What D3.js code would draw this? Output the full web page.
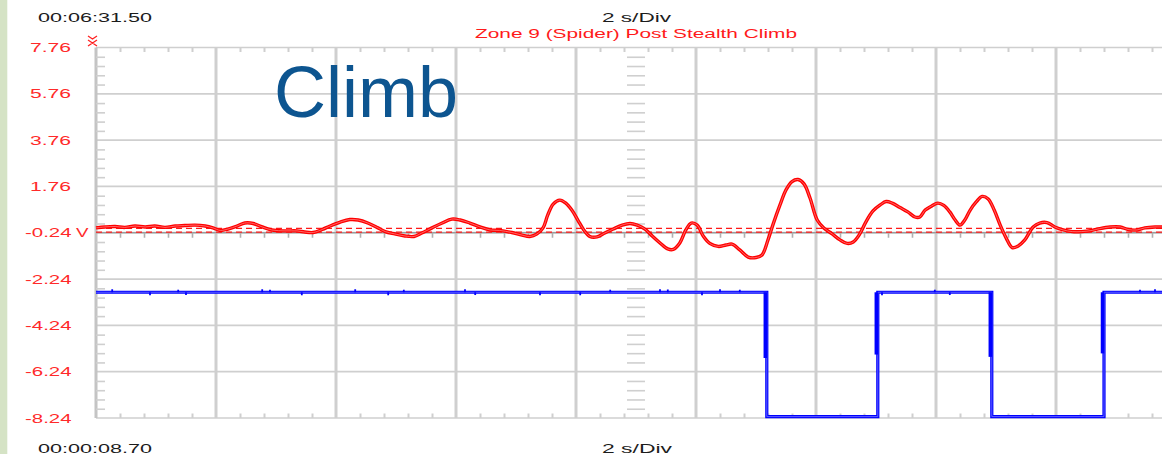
<!DOCTYPE html>
<html><head><meta charset="utf-8">
<script src="https://cdn.jsdelivr.net/npm/d3@7"></script>
<style>
body{margin:0;background:#fff;}
svg{display:block;}
text{font-family:"Liberation Sans",Arial,sans-serif;}
</style>
</head><body>
<svg id="c" width="1162" height="454"></svg>
<script>
// ---- data ----
const yTicks = [7.76, 5.76, 3.76, 1.76, -0.24, -2.24, -4.24, -6.24, -8.24];
const yTickLabels = ["7.76", "5.76", "3.76", "1.76", "-0.24", "-2.24", "-4.24", "-6.24", "-8.24"];
const yUnit = "V";
const xGridTimes = [2, 4, 6, 8, 10, 12, 14, 16];
const topTime = "00:06:31.50";
const bottomTime = "00:00:08.70";
const timeBase = "2 s/Div";
const traceTitle = "Zone 9 (Spider) Post Stealth Climb";
const overlayLabel = "Climb";

// red channel: [time s, volts]
const redTrace = [
 [0,-0.03],[0.15,0.01],[0.32,0.03],[0.48,-0.01],[0.65,0.05],[0.82,0.01],[0.98,0.05],[1.15,-0.01],
 [1.32,0.05],[1.48,0.07],[1.65,0.09],[1.82,0.05],[1.95,-0.03],[2.07,-0.14],[2.2,-0.08],[2.35,0.05],
 [2.48,0.18],[2.62,0.16],[2.77,0.01],[2.93,-0.12],[3.15,-0.16],[3.35,-0.16],[3.48,-0.21],[3.62,-0.23],
 [3.77,-0.10],[3.9,0.05],[4.07,0.22],[4.23,0.33],[4.37,0.31],[4.53,0.18],[4.7,-0.03],[4.82,-0.19],
 [4.98,-0.29],[5.15,-0.38],[5.3,-0.40],[5.43,-0.25],[5.6,-0.03],[5.77,0.18],[5.93,0.35],[6.07,0.31],
 [6.23,0.18],[6.4,0.01],[6.57,-0.12],[6.73,-0.14],[6.93,-0.23],[7.1,-0.34],[7.23,-0.40],[7.35,-0.29],
 [7.45,-0.03],[7.53,0.53],[7.62,1.00],[7.73,1.17],[7.83,1.04],[7.93,0.74],[8.03,0.31],[8.13,-0.12],
 [8.23,-0.40],[8.35,-0.42],[8.48,-0.25],[8.62,-0.08],[8.77,0.09],[8.9,0.16],[9.02,0.09],[9.15,-0.08],
 [9.27,-0.38],[9.4,-0.68],[9.53,-0.94],[9.62,-0.96],[9.73,-0.68],[9.83,-0.12],[9.92,0.18],[10.02,0.09],
 [10.12,-0.38],[10.23,-0.70],[10.37,-0.83],[10.5,-0.77],[10.6,-0.73],[10.73,-0.98],[10.87,-1.29],[11.0,-1.31],
 [11.1,-1.20],[11.2,-0.55],[11.28,0.09],[11.4,0.96],[11.5,1.61],[11.6,1.97],[11.7,2.06],[11.8,1.87],
 [11.9,1.26],[12.02,0.31],[12.13,-0.03],[12.27,-0.29],[12.4,-0.55],[12.52,-0.70],[12.62,-0.64],[12.73,-0.29],
 [12.83,0.22],[12.95,0.70],[13.07,0.96],[13.17,1.11],[13.27,1.04],[13.4,0.85],[13.53,0.66],[13.65,0.44],
 [13.73,0.44],[13.82,0.74],[13.93,0.92],[14.03,1.04],[14.13,0.94],[14.23,0.66],[14.32,0.31],[14.4,0.09],
 [14.48,0.31],[14.57,0.74],[14.67,1.09],[14.77,1.33],[14.87,1.22],[14.97,0.74],[15.07,0.09],[15.17,-0.47],
 [15.27,-0.88],[15.37,-0.81],[15.48,-0.55],[15.62,0.01],[15.73,0.18],[15.85,0.20],[15.98,0.01],[16.12,-0.12],
 [16.27,-0.19],[16.43,-0.19],[16.6,-0.14],[16.73,-0.06],[16.9,0.01],[17.07,0.01],[17.2,-0.10],[17.35,-0.12],
 [17.48,-0.03],[17.65,0.01],[17.77,0.01]
];
const refLevels = [-0.05, -0.21];

// blue channel: square wave
const blueHigh = -2.81;
const blueLow = -8.18;
const blueEdges = [11.18, 13.03, 14.93, 16.80];
const blueEdgeSettle = [-5.65, -5.50, -5.60, -5.45];
const blueSpikes = [
 [0.27,-2.68],[0.9,-2.94],[1.37,-2.70],[1.5,-2.93],[2.77,-2.68],[2.9,-2.70],[3.43,-2.94],[4.32,-2.68],
 [4.87,-2.94],[5.13,-2.70],[6.15,-2.68],[6.32,-2.93],[7.4,-2.94],[8.07,-2.94],[8.57,-2.70],[9.4,-2.68],
 [9.53,-2.69],[10.1,-2.94],[10.4,-2.68],[10.73,-2.70],[13.1,-2.94],[13.98,-2.70],[14.23,-2.93],[17.4,-2.70],[17.65,-2.68]
];

// ---- drawing ----
const svg = d3.select("#c");
const W = 1162, H = 454;
const x = d3.scaleLinear().domain([0, 18]).range([96, 1176]);
const y = d3.scaleLinear().domain([-8.24, 7.76]).range([418, 47.5]);
const grid = "#cfcfcf";

svg.append("rect").attr("x",0).attr("y",0).attr("width",7.3).attr("height",H).attr("fill","#d5e3c5");

// horizontal gridlines
svg.append("g").selectAll("line").data(yTicks).join("line")
  .attr("x1", x(0)).attr("x2", W).attr("y1", d=>y(d)).attr("y2", d=>y(d))
  .attr("stroke", grid).attr("stroke-width", d => (d===7.76||d===-8.24)?1.6:1.8);

// vertical gridlines
svg.append("g").selectAll("line").data(xGridTimes).join("line")
  .attr("x1", d=>x(d)).attr("x2", d=>x(d)).attr("y1", y(7.76)).attr("y2", y(-8.24))
  .attr("stroke", grid).attr("stroke-width", 3);

// left axis line
svg.append("line").attr("x1", x(0)).attr("x2", x(0)).attr("y1", y(7.76)).attr("y2", y(-8.24))
  .attr("stroke", "#c4c4c4").attr("stroke-width", 3);

const minorY = d3.range(0, 41).map(i => -8.24 + i*0.4).filter((v,i) => i % 5 !== 0);
const minorX = d3.range(0, 46).map(i => i*0.4).filter((v,i) => i % 5 !== 0);

function styleAxis(g){
  g.select(".domain").remove();
  g.selectAll(".tick line").attr("stroke", grid).attr("stroke-width", 1.6);
  g.selectAll(".tick text").remove();
}
// left minor ticks
svg.append("g").attr("transform", `translate(${x(0)},0)`)
  .call(d3.axisRight(y).tickValues(minorY).tickSize(9).tickFormat("")).call(styleAxis);
// top minor ticks
svg.append("g").attr("transform", `translate(0,${y(7.76)})`)
  .call(d3.axisBottom(x).tickValues(minorX).tickSize(4.5).tickFormat("")).call(styleAxis)
  .selectAll(".tick line").attr("stroke-width", 2);
// bottom minor ticks
svg.append("g").attr("transform", `translate(0,${y(-8.24)})`)
  .call(d3.axisTop(x).tickValues(minorX).tickSize(4.5).tickFormat("")).call(styleAxis)
  .selectAll(".tick line").attr("stroke-width", 2);
// centre horizontal axis
svg.append("line").attr("x1", x(0)).attr("x2", W).attr("y1", y(-0.24)).attr("y2", y(-0.24))
  .attr("stroke", "#8a8a8a").attr("stroke-width", 1);
svg.append("g").attr("transform", `translate(0,${y(-0.24)})`)
  .call(d3.axisBottom(x).tickValues(minorX).tickSize(5).tickFormat("")).call(styleAxis)
  .selectAll(".tick line").attr("stroke", "#b0b0b0").attr("stroke-width", 1.6);
// centre vertical ticks
svg.append("g").attr("transform", `translate(${x(9)-9},0)`)
  .call(d3.axisRight(y).tickValues(minorY).tickSize(18).tickFormat("")).call(styleAxis);

// reference dashed lines
svg.append("g").selectAll("line").data(refLevels).join("line")
  .attr("x1", x(0)).attr("x2", W).attr("y1", d=>y(d)).attr("y2", d=>y(d))
  .attr("stroke", "#ff1a1a").attr("stroke-width", 1.3).attr("stroke-dasharray", "6,4");

// red trace
const redLine = d3.line().x(d=>x(d[0])).y(d=>y(d[1])).curve(d3.curveCatmullRom.alpha(0.5));
svg.append("path").attr("d", redLine(redTrace)).attr("fill","none")
  .attr("stroke","#ff0000").attr("stroke-width",3.4).attr("stroke-linejoin","round");
svg.append("path").attr("d", redLine(redTrace)).attr("fill","none")
  .attr("stroke","#ff7070").attr("stroke-width",0.9);

// blue trace
const bluePts = [[0, blueHigh]];
let lvl = blueHigh;
blueEdges.forEach(t => {
  bluePts.push([t, lvl]);
  lvl = (lvl === blueHigh) ? blueLow : blueHigh;
  bluePts.push([t, lvl]);
});
bluePts.push([18, lvl]);
const blueLine = d3.line().x(d=>x(d[0])).y(d=>y(d[1]));
svg.append("path").attr("d", blueLine(bluePts)).attr("fill","none")
  .attr("stroke","#0000ff").attr("stroke-width",3.2);
svg.append("path").attr("d", blueLine(bluePts)).attr("fill","none")
  .attr("stroke","#6a6aff").attr("stroke-width",0.9);
// thick settling segments on edges
svg.append("g").selectAll("line").data(blueEdges).join("line")
  .attr("x1", d=>x(d)-1.5).attr("x2", d=>x(d)-1.5)
  .attr("y1", y(blueHigh)).attr("y2", (d,i)=>y(blueEdgeSettle[i]))
  .attr("stroke","#0000ff").attr("stroke-width",3.5);
// spikes
svg.append("g").selectAll("line").data(blueSpikes).join("line")
  .attr("x1", d=>x(d[0])).attr("x2", d=>x(d[0]))
  .attr("y1", y(blueHigh)).attr("y2", d=>y(d[1]))
  .attr("stroke","#0000ff").attr("stroke-width",1.8);

// trigger marker
svg.append("path").attr("d","M88,36 l4.5,3 l4.5,-3 M88,40 l4.5,3 l4.5,-3 M88,46 l4.5,-3 l4.5,3")
  .attr("fill","none").attr("stroke","#ff2020").attr("stroke-width",1.3);

// y labels
const labelG = svg.append("g");
yTicks.forEach((v,i) => {
  const s = yTickLabels[i];
  const neg = s.startsWith("-");
  labelG.append("text").attr("x", neg?25:30).attr("y", y(v)+4.6)
    .attr("font-size", 12.5).attr("fill", "#ff2a2a")
    .attr("textLength", neg?46.5:41).attr("lengthAdjust","spacingAndGlyphs").text(s);
});
labelG.append("text").attr("x", 76).attr("y", y(-0.24)+4.6).attr("font-size",12.5).attr("fill","#ff2a2a")
  .attr("textLength",12.5).attr("lengthAdjust","spacingAndGlyphs").text(yUnit);

// header / footer text
function stretched(txt, x0, yb, len, color){
  svg.append("text").attr("x", x0).attr("y", yb).attr("font-size", 12.5).attr("fill", color)
    .attr("textLength", len).attr("lengthAdjust","spacingAndGlyphs").text(txt);
}
stretched(topTime, 38, 21.7, 114, "#1c1c1c");
stretched(timeBase, 602, 21.7, 69, "#1c1c1c");
stretched(traceTitle, 475, 38.3, 322, "#ff1a1a");
stretched(bottomTime, 38, 452.5, 114, "#1c1c1c");
stretched(timeBase, 602, 452.5, 70, "#1c1c1c");

// overlay label
svg.append("text").attr("x", 274).attr("y", 117).attr("font-size", 72).attr("fill", "#0d5590")
  .text(overlayLabel);
</script>
</body></html>
